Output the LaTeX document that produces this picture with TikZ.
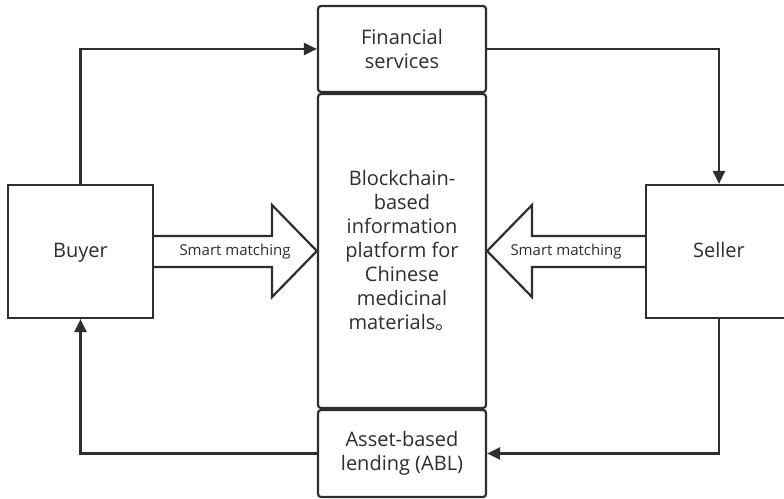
\documentclass[tikz,border=0pt]{standalone}
\usepackage{fontspec}
\setmainfont{Open Sans}
\newfontfamily\cjk{Noto Sans CJK SC}
\usetikzlibrary{arrows.meta,calc}
\definecolor{ink}{HTML}{2E2E2E}
\begin{document}
\begin{tikzpicture}[x=1pt,y=-1pt,
  every node/.style={text=ink},
  plainbox/.style={draw=ink, line width=2.2pt, fill=white, align=center,
    font=\fontsize{20}{24}\selectfont, inner sep=0pt},
  roundbox/.style={plainbox, rounded corners=3pt},
  conn/.style={draw=ink, line width=2.2pt, -{Triangle[length=13pt,width=12pt]}},
  blk/.style={draw=ink, line width=2.2pt, line join=miter, fill=white},
  lbl/.style={font=\fontsize{15}{18}\selectfont, inner sep=0pt}]
\useasboundingbox (0,0) rectangle (784,498);
\clip (0,0) rectangle (784,498);
\fill[white] (0,0) rectangle (784,498);
% boxes
\node[plainbox, minimum width=145pt, minimum height=133pt, text height=15pt, text depth=4pt] (buyer) at (80.5,251.5) {Buyer};
\node[plainbox, minimum width=146pt, minimum height=133pt, text height=15pt, text depth=4pt] (seller) at (719,251.5) {Seller};
\node[roundbox, minimum width=168pt, minimum height=86pt] (fin) at (402,49) {Financial\\services};
\node[roundbox, minimum width=168pt, minimum height=314pt] (plat) at (402,251)
  {Blockchain-\\based\\information\\platform for\\Chinese\\medicinal\\materials{\cjk 。}};
\node[roundbox, minimum width=168pt, minimum height=87pt] (abl) at (402,453.5) {Asset-based\\lending (ABL)};
% connectors
\draw[conn] (buyer.north) |- (fin.west);
\draw[conn] (fin.east) -| (seller.north);
\draw[conn] (seller.south) |- (abl.east);
\draw[conn] (abl.west) -| (buyer.south);
% block arrows
\coordinate (lb1) at ($(buyer.east)+(0,-15.5)$);
\coordinate (lb2) at ($(buyer.east)+(0,15.5)$);
\draw[blk] (lb1) -- (272,236) -- (272,205) -- (plat.west) -- (272,297) -- (272,267) -- (lb2);
\coordinate (rb1) at ($(seller.west)+(0,-15.5)$);
\coordinate (rb2) at ($(seller.west)+(0,15.5)$);
\draw[blk] (rb1) -- (532,236) -- (532,205) -- (plat.east) -- (532,297) -- (532,267) -- (rb2);
\node[lbl] (sm1) at (235,251.5) {Smart matching};
\node[lbl] (sm2) at (566,251.5) {Smart matching};
\end{tikzpicture}
\end{document}
